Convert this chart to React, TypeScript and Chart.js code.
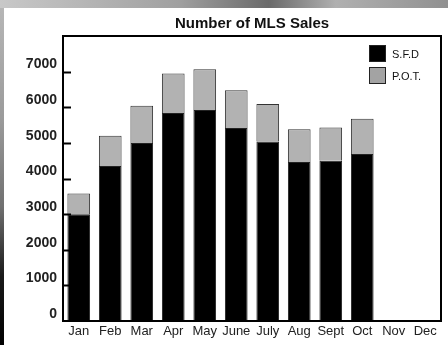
import React, { useEffect, useRef } from "react";
import { Chart, registerables } from "chart.js";

Chart.register(...registerables);

const months = ["Jan", "Feb", "Mar", "Apr", "May", "June", "July", "Aug", "Sept", "Oct", "Nov", "Dec"];
const sfdSales = [3000, 4350, 5000, 5840, 5920, 5420, 5040, 4460, 4500, 4690, null, null];
const potSales = [580, 850, 1040, 1110, 1150, 1060, 1050, 920, 930, 990, null, null];
const seriesNames = ["S.F.D", "P.O.T."];
const chartTitle = "Number of MLS Sales";
const yMax = 8000;
const yStep = 1000;

const FONT = "'Liberation Sans', Arial, Helvetica, sans-serif";
const SFD_COLOR = "#000000";
const POT_COLOR = "#b2b2b2";

const decorPlugin = {
  id: "decor",
  afterDraw(chart: any) {
    const ctx = chart.ctx;
    const a = chart.chartArea;
    ctx.save();
    // frame
    ctx.strokeStyle = "#000";
    ctx.lineWidth = 2;
    ctx.strokeRect(a.left, a.top, a.right - a.left, a.bottom - a.top);
    // inward y ticks
    const ys = chart.scales.y;
    ctx.lineWidth = 2;
    ys.ticks.forEach((t: any) => {
      const py = Math.round(ys.getPixelForValue(t.value)) + 0.5;
      if (t.value <= 0 || t.value >= yMax) return;
      ctx.beginPath();
      ctx.moveTo(a.left, py);
      ctx.lineTo(a.left + 8, py);
      ctx.stroke();
    });
    // title
    ctx.fillStyle = "#111";
    ctx.font = `bold 15px ${FONT}`;
    ctx.textAlign = "center";
    ctx.textBaseline = "middle";
    ctx.fillText(chartTitle, (a.left + a.right) / 2, 24);
    // legend
    const colors = [SFD_COLOR, "#a3a3a3"];
    const bx = a.right - 72;
    seriesNames.forEach((name, i) => {
      const by = a.top + 9 + i * 22;
      ctx.fillStyle = colors[i];
      ctx.fillRect(bx, by, 17, 17);
      ctx.strokeStyle = "#222";
      ctx.lineWidth = 1;
      ctx.strokeRect(bx + 0.5, by + 0.5, 16, 16);
      ctx.fillStyle = "#111";
      ctx.font = `11px ${FONT}`;
      ctx.textAlign = "left";
      ctx.textBaseline = "middle";
      ctx.fillText(name, bx + 23, by + 10);
    });
    ctx.restore();
  },
};

function MlsChart() {
  const ref = useRef<HTMLCanvasElement | null>(null);
  useEffect(() => {
    if (!ref.current) return;
    const chart = new Chart(ref.current, {
      type: "bar",
      data: {
        labels: months,
        datasets: [
          {
            label: seriesNames[0],
            data: sfdSales as any,
            backgroundColor: SFD_COLOR,
            borderColor: "#222",
            borderWidth: 1,
            barPercentage: 0.72,
            categoryPercentage: 1,
          },
          {
            label: seriesNames[1],
            data: potSales as any,
            backgroundColor: POT_COLOR,
            borderColor: "#333",
            borderWidth: 1,
            barPercentage: 0.72,
            categoryPercentage: 1,
          },
        ],
      },
      options: {
        animation: false,
        responsive: false,
        maintainAspectRatio: false,
        layout: { padding: { left: 0, right: 7, top: 36, bottom: 0 } },
        plugins: {
          legend: { display: false },
          title: { display: false },
          tooltip: { enabled: false },
        },
        scales: {
          x: {
            stacked: true,
            grid: { display: false, drawTicks: false },
            border: { display: false },
            ticks: {
              color: "#222",
              font: { family: FONT, size: 13 },
              padding: 3,
              maxRotation: 0,
              autoSkip: false,
            },
            afterFit: (s: any) => {
              s.height = 24;
            },
          },
          y: {
            stacked: true,
            min: 0,
            max: yMax,
            grid: { display: false, drawTicks: false },
            border: { display: false },
            ticks: {
              stepSize: yStep,
              color: "#222",
              font: { family: FONT, size: 14, weight: "bold" },
              padding: 6,
              labelOffset: -7,
              callback: (v: any) => (Number(v) >= yMax ? "" : String(v)),
            },
            afterFit: (s: any) => {
              s.width = 63;
            },
          },
        },
      },
      plugins: [decorPlugin],
    });
    return () => chart.destroy();
  }, []);
  return <canvas ref={ref} width={448} height={345} style={{ position: "absolute", left: 0, top: 0, width: 448, height: 345 }} />;
}

export default function App() {
  useEffect(() => {
    document.body.style.margin = "0";
  }, []);
  return (
    <div
      style={{
        position: "fixed",
        left: 0,
        top: 0,
        width: 448,
        height: 345,
        overflow: "hidden",
        background:
          "linear-gradient(180deg, #b8b8b8 0%, #9a9a9a 35%, #707070 60%, #1a1a1a 80%, #000 100%)",
      }}
    >
      <div
        style={{
          position: "absolute",
          left: 0,
          top: 0,
          width: 448,
          height: 8,
          background: "linear-gradient(90deg, #c8c8c8 0%, #a0a0a0 40%, #6a6a6a 60%, #b0b0b0 75%, #909090 100%)",
        }}
      />
      <div style={{ position: "absolute", left: 4, top: 8, right: 0, bottom: 0, background: "#fff" }} />
      <MlsChart />
    </div>
  );
}
